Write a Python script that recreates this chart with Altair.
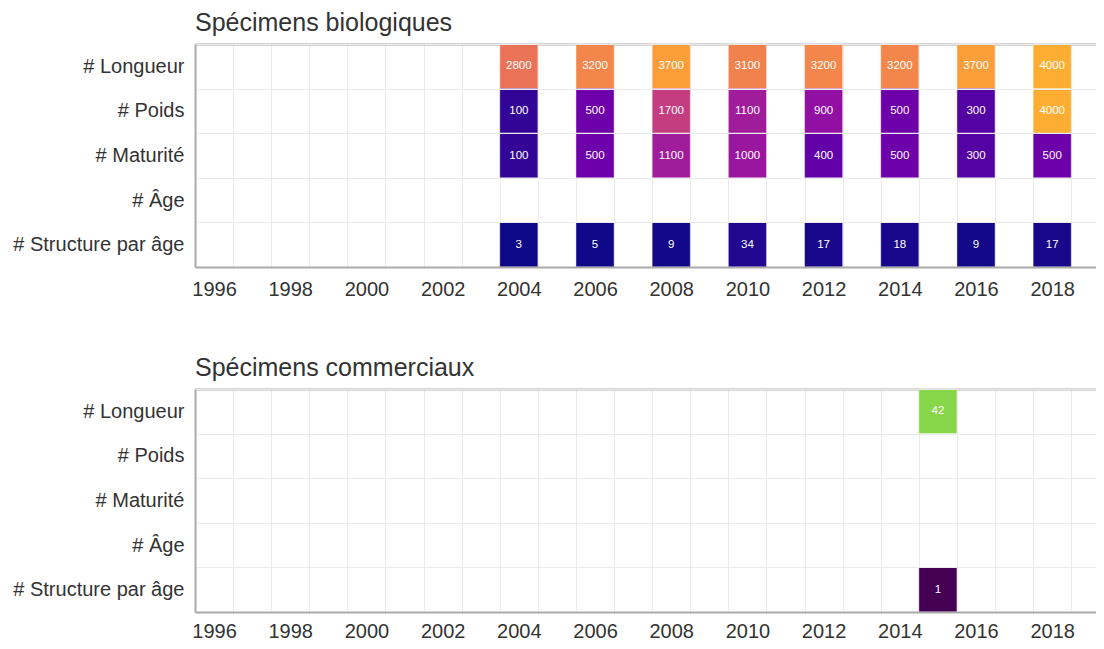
import altair as alt
import pandas as pd

FONT = "Liberation Sans"
ROWS = ["# Longueur", "# Poids", "# Maturité", "# Âge", "# Structure par âge"]

# Spécimens biologiques
bio_years = [2004, 2006, 2008, 2010, 2012, 2014, 2016, 2018]
bio_longueur = [2800, 3200, 3700, 3100, 3200, 3200, 3700, 4000]
bio_poids = [100, 500, 1700, 1100, 900, 500, 300, 4000]
bio_maturite = [100, 500, 1100, 1000, 400, 500, 300, 500]
bio_structure = [3, 5, 9, 34, 17, 18, 9, 17]

# Spécimens commerciaux
com_years = [2015]
com_longueur = [42]
com_structure = [1]

x_labels = list(range(1996, 2019, 2))
x_bounds = [y + 0.5 for y in range(1995, 2019)]
X_DOMAIN = [1995.5, 2019.15]


def make_df(years, series):
    recs = []
    for name, vals in series.items():
        for yr, v in zip(years, vals):
            recs.append({"year": yr, "var": name, "n": v})
    return pd.DataFrame(recs)


bio_df = make_df(bio_years, {"# Longueur": bio_longueur, "# Poids": bio_poids,
                             "# Maturité": bio_maturite, "# Structure par âge": bio_structure})
com_df = make_df(com_years, {"# Longueur": com_longueur, "# Structure par âge": com_structure})


def panel(df, title, scheme, extent, xpad):
    base = alt.Chart(df).transform_calculate(x0="datum.year - 0.5", x1="datum.year + 0.5")
    xscale = alt.Scale(domain=X_DOMAIN, nice=False, zero=False)
    yenc = alt.Y("var:N", sort=ROWS, title=None,
                 scale=alt.Scale(domain=ROWS, paddingInner=0, paddingOuter=0),
                 axis=alt.Axis(tickBand="extent", grid=True, gridColor="#ebebeb", gridWidth=1,
                               ticks=False, tickSize=0, labelPadding=11, labelFontSize=20,
                               labelFont=FONT, labelColor="#333333", domainColor="#aaaaaa",
                               domainWidth=2, labelLimit=400))
    rect = base.mark_rect(stroke="white", strokeWidth=0.6, strokeOpacity=0.7).encode(
        x=alt.X("x0:Q", scale=xscale, title=None,
                axis=alt.Axis(values=x_labels, format="d", grid=False, ticks=False, tickSize=0,
                              labelPadding=xpad, labelFontSize=20, labelFont=FONT,
                              labelColor="#333333", domainColor="#aaaaaa", domainWidth=2,
                              zindex=1, labelOverlap=False, labelFlush=False)),
        x2="x1:Q",
        y=yenc,
        color=alt.Color("n:Q", legend=None,
                        scale=alt.Scale(type="pow", exponent=0.65, zero=False,
                                        scheme=alt.SchemeParams(name=scheme, extent=extent))),
    )
    text = base.mark_text(color="white", fontSize=11.5, font=FONT).encode(
        x=alt.X("year:Q", scale=xscale, title=None,
                axis=alt.Axis(orient="top", values=x_bounds, labels=False, ticks=False, tickSize=0,
                              grid=True, gridColor="#ebebeb", gridWidth=1,
                              domainColor="#aaaaaa", domainWidth=2, zindex=0)),
        y=alt.Y("var:N", sort=ROWS),
        text=alt.Text("n:Q", format="d"),
    )
    return alt.layer(rect, text).resolve_axis(x="independent").properties(
        width=901, height=223,
        title=alt.TitleParams(title, anchor="start", frame="group", fontSize=25,
                              fontWeight="normal", color="#333333", font=FONT, offset=-2),
    )


top = panel(bio_df, "Spécimens biologiques", "plasma", [0, 0.82], 12)
bottom = panel(com_df, "Spécimens commerciaux", "viridis", [0, 0.82], 9)

chart = alt.vconcat(top, bottom, spacing=57).resolve_scale(color="independent").configure_view(
    strokeWidth=0
).properties(padding={"left": 4, "top": 3, "right": 0, "bottom": 0})

chart.save("out.html", embed_options={"renderer": "svg", "actions": False})
